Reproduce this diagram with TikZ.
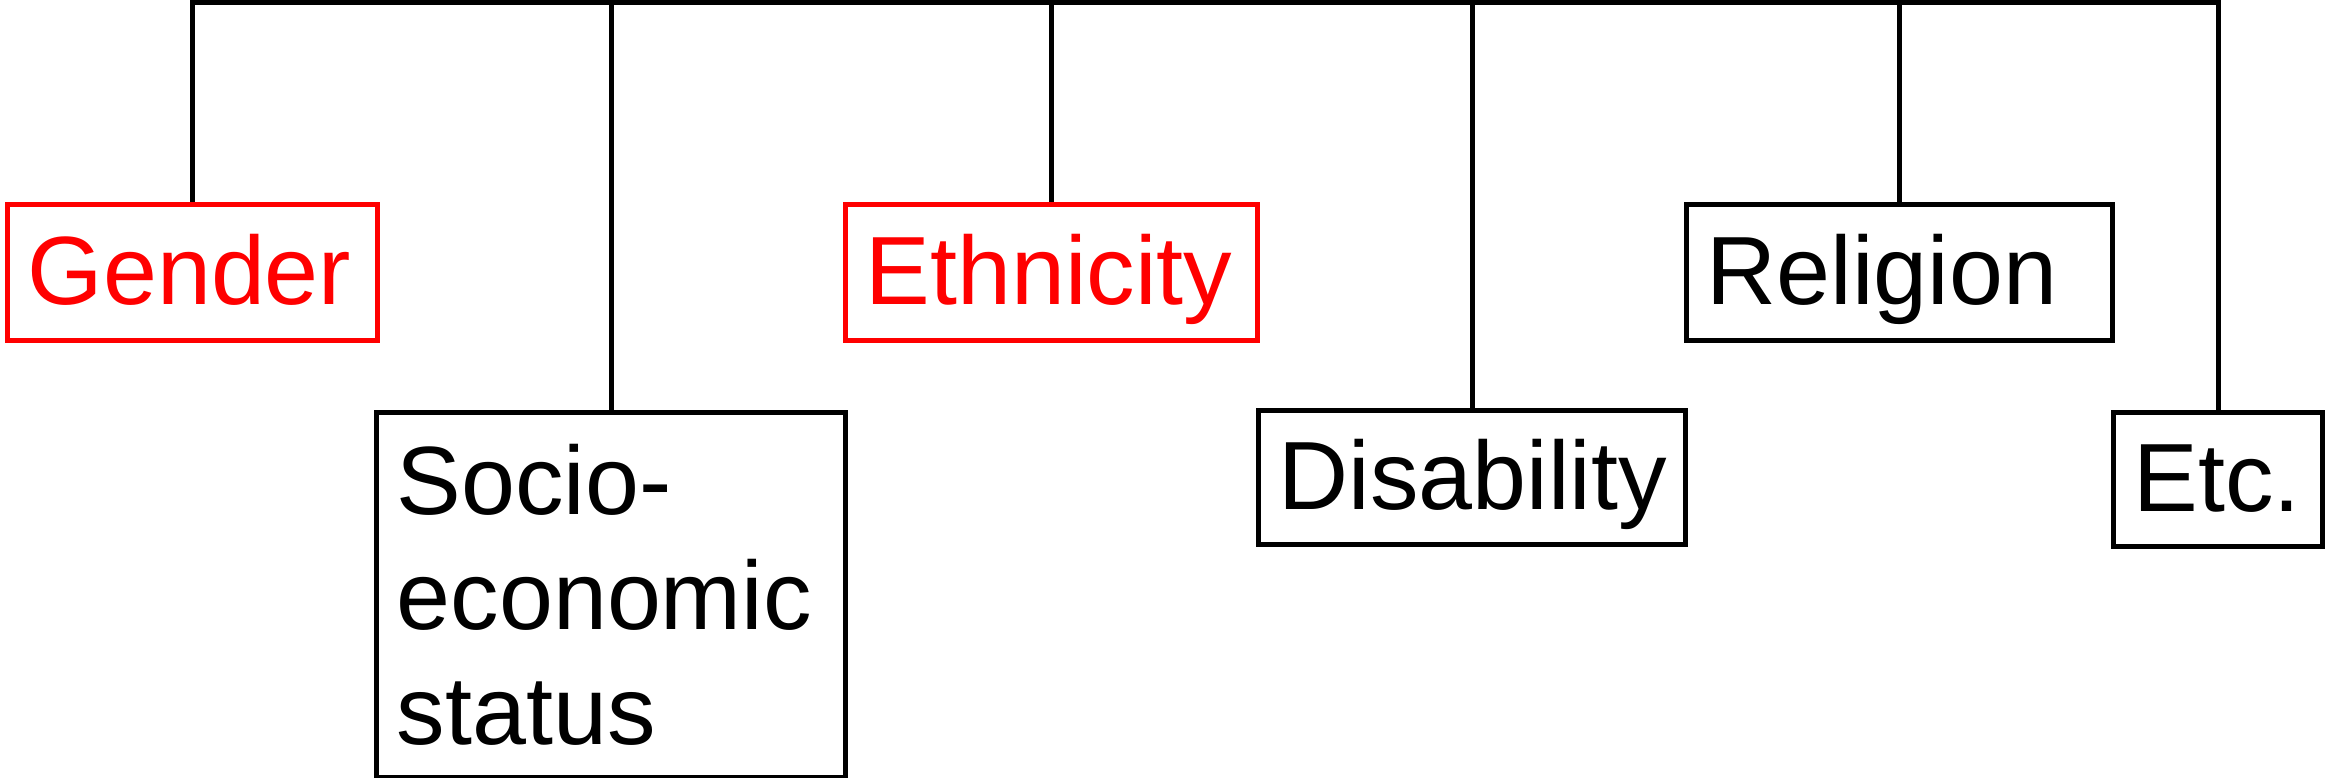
\documentclass[tikz,border=0pt]{standalone}
\usepackage{fontspec}
\setmainfont{Liberation Sans}
\usepackage{tikz}
\usetikzlibrary{positioning}
\definecolor{markred}{HTML}{FF0000}
\tikzset{boxbase/.style={rectangle,draw=black,line width=1.35pt,anchor=north west,
 inner xsep=5pt,inner ysep=0pt,minimum height=34pt,align=left,text=black,
 font=\fontsize{24.25}{28.75}\selectfont},
 factor/.style={boxbase,text height=22pt,text depth=6pt},
 marked/.style={factor,draw=markred,text=markred},
 connection/.style={draw=black,line width=1.3pt}}

\begin{document}
\begin{tikzpicture}[x=1pt,y=1pt]
 \useasboundingbox (0,0) rectangle (582.75,194.5);
 \coordinate (bar) at (0,193.85);
 % upper row
 \node[marked,minimum width=92.5pt,text width=82.5pt] (gender) at (1.25,144) {Gender};
 \node[marked,minimum width=103pt,text width=93pt] (ethnicity) at (210.75,144) {Ethnicity};
 \node[factor,minimum width=106.5pt,text width=96.5pt] (religion) at (421,144) {Religion};
 % lower row
 \node[boxbase,minimum width=117.25pt,minimum height=91.25pt,text width=107.25pt] (ses) at (93.5,92)
  {Socio-\\economic\\status};
 \node[factor,minimum width=106.75pt,minimum height=33.5pt,text width=96.75pt] (disability) at (314,92.5) {Disability};
 \node[factor,minimum width=52.25pt,minimum height=33.5pt,text width=42.25pt] (etc) at (527.75,92) {Etc.};
 % tree lines
 \draw[connection] (gender.north) |- (etc.north |- bar) -- (etc.north);
 \foreach \n in {ses,ethnicity,disability,religion}
  \draw[connection] (\n.north) -- (\n.north |- bar);
\end{tikzpicture}
\end{document}
